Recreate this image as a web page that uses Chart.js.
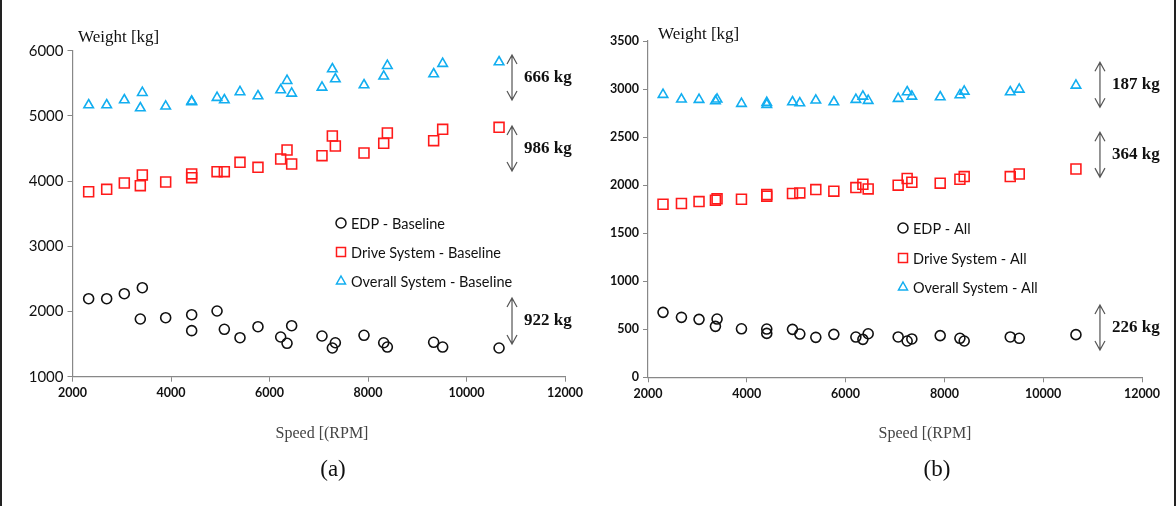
<!DOCTYPE html>
<html>
<head>
<meta charset="utf-8">
<script src="https://cdn.jsdelivr.net/npm/chart.js@4.4.1/dist/chart.umd.min.js"></script>
<style>
	body { margin: 0; width: 1176px; height: 506px; background: #fff; position: relative; overflow: hidden; }
	canvas { position: absolute; top: 0; }
	#frame { position: absolute; left: 0; top: 0; width: 1172px; height: 506px; border-left: 2px solid #222; border-right: 2px solid #222; pointer-events: none; }
</style>
</head>
<body>
<canvas id="chart-a" width="590" height="506" style="left:0;width:590px;height:506px"></canvas>
<canvas id="chart-b" width="586" height="506" style="left:590px;width:586px;height:506px"></canvas>
<div id="frame"></div>
<script>
// (a) baseline
const speedA = [2328, 2694, 3052, 3418, 3377, 3892, 4420, 4420, 4935, 5083, 5401, 5766, 6227, 6356, 6450, 7066, 7276, 7337, 7919, 8319, 8393, 9333, 9516, 10661];
const edpA = [2196, 2196, 2273, 2365, 1885, 1905, 1951, 1706, 2008, 1727, 1598, 1767, 1609, 1512, 1782, 1624, 1440, 1521, 1635, 1521, 1455, 1528, 1455, 1440];
const driveA = [3837, 3874, 3971, 4094, 3930, 3986, 4110, 4053, 4144, 4144, 4288, 4212, 4339, 4477, 4262, 4390, 4692, 4538, 4431, 4580, 4738, 4620, 4794, 4825];
const overallA = [5167, 5167, 5244, 5356, 5121, 5147, 5224, 5215, 5280, 5244, 5367, 5305, 5397, 5540, 5346, 5438, 5719, 5566, 5474, 5607, 5770, 5643, 5801, 5827];
const legendA = ['EDP - Baseline', 'Drive System - Baseline', 'Overall System - Baseline'];
const gapLabelsA = ['666 kg', '986 kg', '922 kg'];
const gapTopA = [5934, 4845, 2207];
const gapBottomA = [5244, 4155, 1502];

// (b) all
const speedB = [2304, 2677, 3033, 3365, 3398, 3892, 4404, 4404, 4925, 5073, 5397, 5762, 6208, 6350, 6457, 7064, 7246, 7341, 7915, 8314, 8401, 9333, 9515, 10663];
const edpB = [676, 624, 603, 530, 606, 505, 502, 457, 499, 450, 416, 447, 419, 395, 453, 420, 378, 399, 434, 406, 378, 420, 406, 444];
const driveB = [1801, 1809, 1829, 1843, 1857, 1853, 1902, 1885, 1913, 1919, 1954, 1937, 1975, 2009, 1960, 1999, 2069, 2030, 2020, 2061, 2089, 2089, 2116, 2168];
const overallB = [2942, 2893, 2890, 2875, 2893, 2848, 2859, 2838, 2865, 2854, 2883, 2865, 2890, 2924, 2879, 2900, 2969, 2924, 2917, 2938, 2976, 2969, 2997, 3038];
const legendB = ['EDP - All', 'Drive System - All', 'Overall System - All'];
const gapLabelsB = ['187 kg', '364 kg', '226 kg'];
const gapTopB = [3278, 2550, 752];
const gapBottomB = [2810, 2083, 284];

const colors = ['#111111', '#ff1a1a', '#12aef0'];
const styles = ['circle', 'rect', 'triangle'];
const radii = [5, 7, 5.5];
const serif = '"Liberation Serif", "Times New Roman", serif';
const sans = 'Lato, "Open Sans", sans-serif';

function points(xs, ys) {
	return xs.map((x, i) => ({ x: x, y: ys[i] }));
}

function marker(ctx, style, x, y, color) {
	ctx.strokeStyle = color;
	ctx.lineWidth = 1.5;
	ctx.beginPath();
	if (style === 'circle') {
		ctx.arc(x, y, 5, 0, Math.PI * 2);
	} else if (style === 'rect') {
		ctx.rect(x - 4.5, y - 4.5, 9, 9);
	} else {
		ctx.moveTo(x, y - 5);
		ctx.lineTo(x + 4.5, y + 3);
		ctx.lineTo(x - 4.5, y + 3);
		ctx.closePath();
	}
	ctx.stroke();
}

function makeDecor(cfg) {
	return {
		id: 'decor',
		afterDraw(chart) {
			const ctx = chart.ctx;
			const xs = chart.scales.x, ys = chart.scales.y;
			ctx.save();
			ctx.textBaseline = 'middle';

			ctx.fillStyle = '#111';
			ctx.font = '17px ' + serif;
			ctx.textAlign = 'left';
			ctx.fillText('Weight [kg]', cfg.yTitle[0], cfg.yTitle[1]);

			ctx.fillStyle = '#444';
			ctx.font = '16px ' + serif;
			ctx.textAlign = 'center';
			ctx.fillText('Speed [(RPM]', cfg.xTitle[0], cfg.xTitle[1]);
			ctx.fillStyle = '#111';
			ctx.font = '23px ' + serif;
			ctx.fillText(cfg.panel[0], cfg.panel[1], cfg.panel[2]);

			// legend
			ctx.font = '14.5px ' + sans;
			ctx.textAlign = 'left';
			cfg.legend.forEach((label, i) => {
				marker(ctx, styles[i], cfg.legendX, cfg.legendY[i], colors[i]);
				ctx.fillStyle = '#111';
				ctx.fillText(label, cfg.legendX + 10, cfg.legendY[i] + 1);
			});

			// difference arrows
			const ax = xs.getPixelForValue(cfg.arrowX);
			ctx.strokeStyle = '#555';
			ctx.lineWidth = 1.2;
			ctx.font = 'bold 17px ' + serif;
			cfg.labels.forEach((label, i) => {
				const t = ys.getPixelForValue(cfg.top[i]);
				const b = ys.getPixelForValue(cfg.bottom[i]);
				ctx.beginPath();
				ctx.moveTo(ax, t); ctx.lineTo(ax, b);
				ctx.moveTo(ax - 5, t + 9); ctx.lineTo(ax, t); ctx.lineTo(ax + 5, t + 9);
				ctx.moveTo(ax - 5, b - 9); ctx.lineTo(ax, b); ctx.lineTo(ax + 5, b - 9);
				ctx.stroke();
				ctx.fillStyle = '#111';
				ctx.fillText(label, ax + 12, (t + b) / 2);
			});
			ctx.restore();
		}
	};
}

function axis(min, max, step, yWidth, font) {
	return {
		type: 'linear',
		min: min,
		max: max,
		ticks: { stepSize: step, color: '#111', font: font, padding: 4, callback: v => String(v) },
		grid: { display: true, drawOnChartArea: false, drawTicks: true, tickLength: 5, color: '#888' },
		border: { color: '#888', width: 1.2 },
		afterFit: s => {
			if (yWidth) s.width = yWidth; else s.height = 40;
		}
	};
}

function makeChart(id, speed, series, yMin, yMax, yStep, yWidth, yFont, padding, decor) {
	return new Chart(document.getElementById(id), {
		type: 'scatter',
		data: {
			datasets: series.map((vals, i) => ({
				data: points(speed, vals),
				pointStyle: styles[i],
				pointRadius: radii[i],
				borderColor: colors[i],
				backgroundColor: 'rgba(0,0,0,0)',
				borderWidth: 1.6
			}))
		},
		options: {
			responsive: false,
			animation: false,
			devicePixelRatio: 1,
			layout: { padding: padding },
			plugins: { legend: { display: false }, tooltip: { enabled: false } },
			scales: {
				x: axis(2000, 12000, 2000, 0, { family: sans, size: 12.5, weight: 'bold' }),
				y: axis(yMin, yMax, yStep, yWidth, yFont)
			}
		},
		plugins: [makeDecor(decor)]
	});
}

makeChart('chart-a', speedA, [edpA, driveA, overallA], 1000, 6000, 1000, 72.5,
	{ family: sans, size: 15 },
	{ left: 0, top: 50.7, right: 25, bottom: 89.3 },
	{
		yTitle: [78, 38], xTitle: [322, 434], panel: ['(a)', 333, 470],
		legend: legendA, legendX: 341, legendY: [223, 252, 281],
		arrowX: 10924, labels: gapLabelsA, top: gapTopA, bottom: gapBottomA
	});

makeChart('chart-b', speedB, [edpB, driveB, overallB], 0, 3500, 500, 58,
	{ family: sans, size: 12.5, weight: 'bold' },
	{ left: 0, top: 41, right: 34, bottom: 88.7 },
	{
		yTitle: [68, 35], xTitle: [335, 434], panel: ['(b)', 347, 470],
		legend: legendB, legendX: 313, legendY: [228, 258, 287],
		arrowX: 11149, labels: gapLabelsB, top: gapTopB, bottom: gapBottomB
	});
</script>
</body>
</html>
